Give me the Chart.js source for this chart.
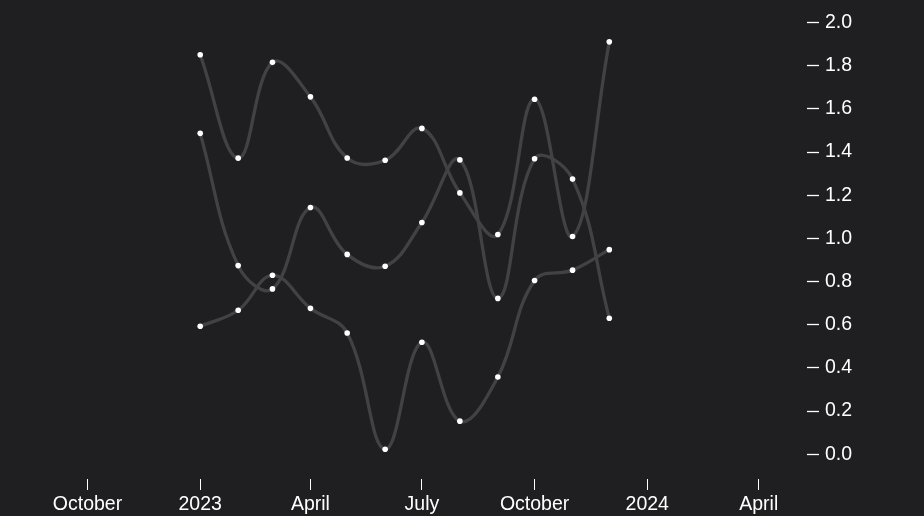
<!DOCTYPE html>
<html>
<head>
<meta charset="utf-8">
<script src="https://cdn.jsdelivr.net/npm/chart.js@4/dist/chart.umd.min.js"></script>
<style>
  html, body { margin: 0; padding: 0; background: #1f1f21; }
  canvas { display: block; }
</style>
</head>
<body>
<canvas id="c" width="924" height="516"></canvas>
<script>
// ---- data ----
const months = ["2023-01-01","2023-02-01","2023-03-01","2023-04-01","2023-05-01","2023-06-01",
                "2023-07-01","2023-08-01","2023-09-01","2023-10-01","2023-11-01","2023-12-01"];
const seriesA = [1.851, 1.372, 1.816, 1.656, 1.373, 1.362, 1.510, 1.211, 1.018, 1.645, 1.009, 1.911];
const seriesB = [1.487, 0.874, 0.766, 1.143, 0.926, 0.871, 1.074, 1.364, 0.722, 1.369, 1.275, 0.630];
const seriesC = [0.593, 0.667, 0.829, 0.676, 0.562, 0.023, 0.519, 0.153, 0.358, 0.805, 0.853, 0.948];
const xTickDates = ["2022-10-01","2023-01-01","2023-04-01","2023-07-01","2023-10-01","2024-01-01","2024-04-01"];
const xTickLabels = ["October","2023","April","July","October","2024","April"];
const yTicks = [0.0, 0.2, 0.4, 0.6, 0.8, 1.0, 1.2, 1.4, 1.6, 1.8, 2.0];
const xDomain = ["2022-07-23T20:00:00Z","2024-05-10T10:00:00Z"];
const yDomain = [-0.115, 2.092];

const toPts = vals => vals.map((v, i) => ({ x: Date.parse(months[i]), y: v }));
const font = { family: "'Liberation Sans', Arial, Helvetica, sans-serif", size: 19.5 };

const lineStyle = {
  borderColor: '#424244',
  borderWidth: 3.3,
  tension: 0.4,
  pointRadius: 2.8,
  pointHoverRadius: 2.8,
  pointBackgroundColor: '#ffffff',
  pointBorderWidth: 0,
  fill: false
};

new Chart(document.getElementById('c'), {
  type: 'line',
  data: {
    datasets: [
      Object.assign({ label: 'A', data: toPts(seriesA) }, lineStyle),
      Object.assign({ label: 'B', data: toPts(seriesB) }, lineStyle),
      Object.assign({ label: 'C', data: toPts(seriesC) }, lineStyle)
    ]
  },
  options: {
    responsive: false,
    animation: false,
    layout: { padding: { left: 0, top: 0, right: 0, bottom: 0 } },
    plugins: { legend: { display: false }, tooltip: { enabled: false } },
    scales: {
      x: {
        type: 'linear',
        position: 'bottom',
        min: Date.parse(xDomain[0]),
        max: Date.parse(xDomain[1]),
        afterBuildTicks: s => { s.ticks = xTickDates.map(d => ({ value: Date.parse(d) })); },
        afterFit: s => { s.height = 37; s.paddingLeft = 0; s.paddingRight = 0; },
        border: { display: false },
        grid: { drawOnChartArea: false, drawTicks: true, tickLength: 11, tickColor: '#ffffff', tickWidth: 1 },
        ticks: {
          autoSkip: false, maxRotation: 0, minRotation: 0, padding: 3,
          color: '#ffffff', font: font,
          callback: (v, i) => xTickLabels[i]
        }
      },
      y: {
        type: 'linear',
        position: 'right',
        min: yDomain[0],
        max: yDomain[1],
        afterBuildTicks: s => { s.ticks = yTicks.map(v => ({ value: v })); },
        afterFit: s => { s.width = 117; s.paddingTop = 0; s.paddingBottom = 0; },
        border: { display: false },
        grid: { drawOnChartArea: false, drawTicks: true, tickLength: 12, tickColor: '#ffffff', tickWidth: 1.3 },
        ticks: {
          padding: 6,
          color: '#ffffff', font: font,
          callback: v => v.toFixed(1)
        }
      }
    }
  }
});
</script>
</body>
</html>
